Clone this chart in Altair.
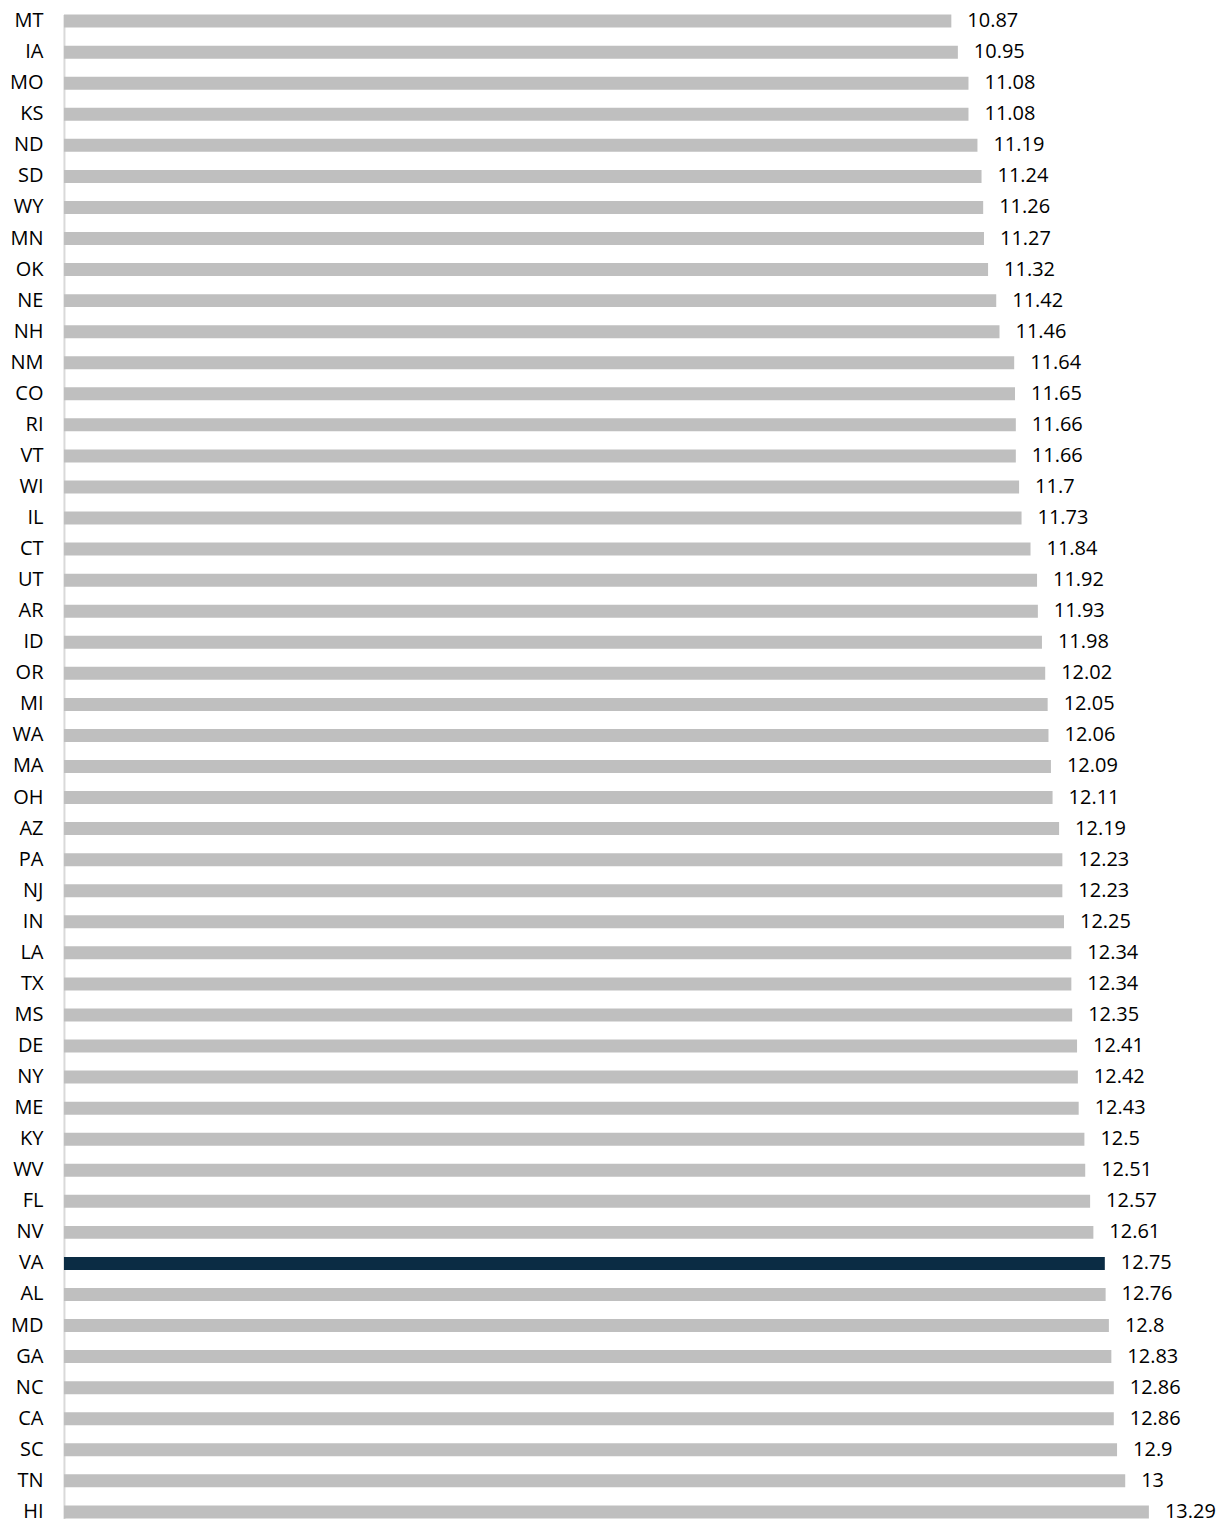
import altair as alt
import pandas as pd

states = ["MT", "IA", "MO", "KS", "ND", "SD", "WY", "MN", "OK", "NE", "NH", "NM", "CO", "RI",
          "VT", "WI", "IL", "CT", "UT", "AR", "ID", "OR", "MI", "WA", "MA", "OH", "AZ", "PA",
          "NJ", "IN", "LA", "TX", "MS", "DE", "NY", "ME", "KY", "WV", "FL", "NV", "VA", "AL",
          "MD", "GA", "NC", "CA", "SC", "TN", "HI"]
values = [10.87, 10.95, 11.08, 11.08, 11.19, 11.24, 11.26, 11.27, 11.32, 11.42, 11.46, 11.64,
          11.65, 11.66, 11.66, 11.7, 11.73, 11.84, 11.92, 11.93, 11.98, 12.02, 12.05, 12.06,
          12.09, 12.11, 12.19, 12.23, 12.23, 12.25, 12.34, 12.34, 12.35, 12.41, 12.42, 12.43,
          12.5, 12.51, 12.57, 12.61, 12.75, 12.76, 12.8, 12.83, 12.86, 12.86, 12.9, 13, 13.29]
labels = ["10.87", "10.95", "11.08", "11.08", "11.19", "11.24", "11.26", "11.27", "11.32",
          "11.42", "11.46", "11.64", "11.65", "11.66", "11.66", "11.7", "11.73", "11.84",
          "11.92", "11.93", "11.98", "12.02", "12.05", "12.06", "12.09", "12.11", "12.19",
          "12.23", "12.23", "12.25", "12.34", "12.34", "12.35", "12.41", "12.42", "12.43",
          "12.5", "12.51", "12.57", "12.61", "12.75", "12.76", "12.8", "12.83", "12.86",
          "12.86", "12.9", "13", "13.29"]
highlight = "VA"

df = pd.DataFrame({"state": states, "value": values, "label": labels})
df["hl"] = df["state"].apply(lambda s: "yes" if s == highlight else "no")

FONT = "Open Sans"
FS = 20

y = alt.Y("state:N", sort=states,
          scale=alt.Scale(paddingInner=0.582, paddingOuter=0),
          axis=alt.Axis(title=None, ticks=False, labelPadding=21, labelFont=FONT,
                        labelFontSize=FS, labelColor="#000000", domainColor="#d9d9d9",
                        domainWidth=2, grid=False))
x = alt.X("value:Q", scale=alt.Scale(domain=[0, 13.953], nice=False, zero=True),
          axis=None)

bars = alt.Chart(df).mark_bar().encode(
    x=x, y=y,
    color=alt.Color("hl:N", scale=alt.Scale(domain=["no", "yes"], range=["#bfbfbf", "#0b2c44"]),
                    legend=None),
)

text = alt.Chart(df).mark_text(align="left", baseline="middle", dx=16, font=FONT,
                               fontSize=FS, color="#000000").encode(
    x=x, y=y, text="label:N")

chart = (bars + text).properties(
    width=1140, height=1505,
    autosize=alt.AutoSizeParams(type="none"),
    padding={"left": 56, "top": 6, "right": 20, "bottom": 6},
).configure_view(stroke=None)

chart.save("out.html", embed_options={"renderer": "svg", "actions": False})
